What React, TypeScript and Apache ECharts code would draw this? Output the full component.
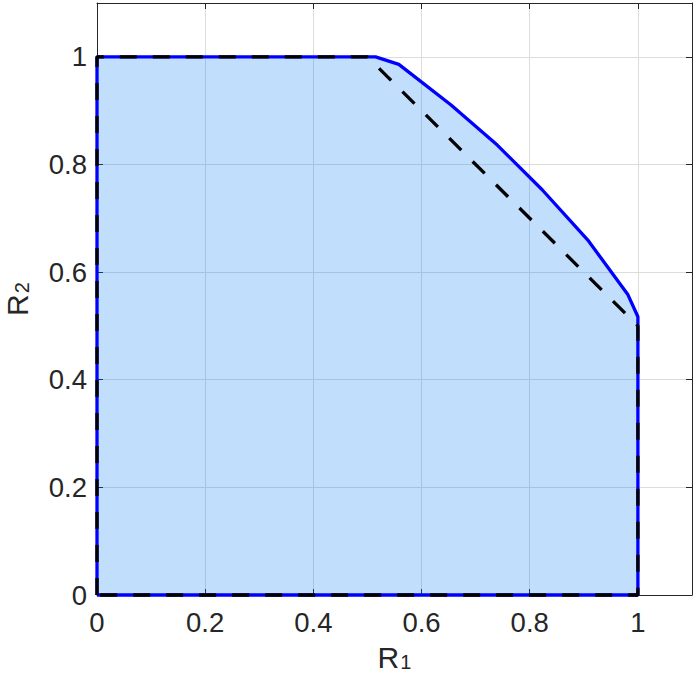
import React, { useEffect, useRef } from "react";
import * as echarts from "echarts";

const regionR1 = [0, 0, 0.515, 0.558, 0.654, 0.74, 0.823, 0.907, 0.981, 1, 1, 0];
const regionR2 = [0, 1, 1, 0.986, 0.911, 0.836, 0.753, 0.66, 0.559, 0.517, 0, 0];
const boundR1 = [0, 0, 0.5, 1, 1, 0];
const boundR2 = [0, 1, 1, 0.5, 0, 0];
const tickLabels = ["0", "0.2", "0.4", "0.6", "0.8", "1"];

const FONT = "'Liberation Sans', Arial, Helvetica, sans-serif";
const TXT = "#262626";

export default function App() {
  const ref = useRef<HTMLDivElement>(null);
  useEffect(() => {
    const chart = echarts.init(ref.current!, null, { renderer: "svg" });
    const fmt = (v: number) => {
      const i = Math.round(v / 0.2);
      if (Math.abs(v - i * 0.2) > 1e-6 || i >= tickLabels.length) return "";
      return tickLabels[i];
    };
    const baseAxis = {
      type: "value",
      min: 0,
      max: 1.1,
      interval: 0.2,
      axisLine: { show: true, onZero: false, lineStyle: { color: TXT, width: 1 } },
      axisTick: { show: true, inside: true, length: 6, lineStyle: { color: TXT } },
      splitLine: { show: true, lineStyle: { color: "#dcdcdc", width: 1 } },
      axisLabel: {
        show: true,
        color: TXT,
        fontSize: 27.5,
        fontFamily: FONT,
        formatter: fmt,
        showMaxLabel: false,
      },
    };
    const mirrorAxis = {
      type: "value",
      min: 0,
      max: 1.1,
      interval: 0.2,
      axisLine: { show: true, onZero: false, lineStyle: { color: TXT, width: 1 } },
      axisTick: { show: true, inside: true, length: 6, lineStyle: { color: TXT } },
      splitLine: { show: false },
      axisLabel: { show: false },
    };
    const nameRich = {
      r: { fontSize: 30, lineHeight: 30, color: TXT, fontFamily: FONT },
      s: {
        fontSize: 20,
        lineHeight: 12,
        verticalAlign: "bottom",
        color: TXT,
        fontFamily: FONT,
        padding: [0, 0, 0, 1],
      },
    };
    chart.setOption({
      animation: false,
      grid: {
        left: 97,
        right: 2,
        top: 3,
        bottom: 82,
        containLabel: false,
        outerBoundsMode: "none",
      },
      xAxis: [
        {
          ...baseAxis,
          position: "bottom",
          name: "{r|R}{s|1}",
          nameLocation: "middle",
          nameGap: 47,
          nameTextStyle: { rich: nameRich },
          axisLabel: { ...baseAxis.axisLabel, margin: 13 },
        },
        { ...mirrorAxis, position: "top" },
      ],
      yAxis: [
        {
          ...baseAxis,
          position: "left",
          name: "{r|R}{s|2}",
          nameLocation: "middle",
          nameRotate: 90,
          nameGap: 65,
          nameTextStyle: { rich: nameRich },
          axisLabel: { ...baseAxis.axisLabel, margin: 10 },
        },
        { ...mirrorAxis, position: "right" },
      ],
      series: [
        {
          type: "line",
          data: regionR1.map((x, i) => [x, regionR2[i]]),
          xAxisIndex: 0,
          yAxisIndex: 0,
          symbol: "none",
          clip: false,
          lineStyle: { color: "#0000ff", width: 3.3 },
          areaStyle: { color: "rgba(0,118,245,0.245)", opacity: 1, origin: 0 },
          z: 3,
        },
        {
          type: "line",
          data: boundR1.map((x, i) => [x, boundR2[i]]),
          xAxisIndex: 0,
          yAxisIndex: 0,
          symbol: "none",
          clip: false,
          lineStyle: { color: "#000000", width: 3.3, type: [17, 16] },
          z: 4,
        },
      ],
    });
    return () => chart.dispose();
  }, []);
  return (
    <div
      ref={ref}
      style={{ position: "fixed", left: 0, top: 0, width: 694, height: 677, background: "#fff" }}
    />
  );
}
